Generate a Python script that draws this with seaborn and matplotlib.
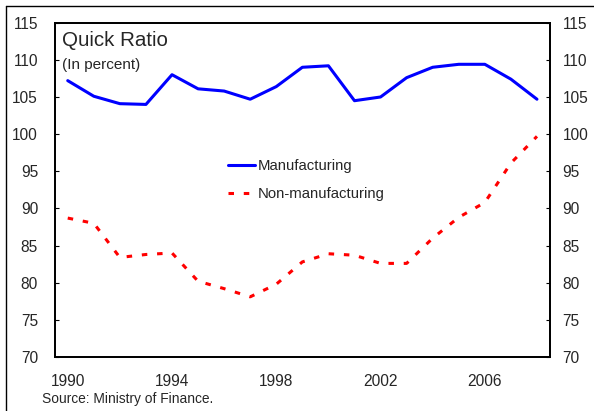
import numpy as np
import pandas as pd
import matplotlib
matplotlib.use("Agg")
import matplotlib.pyplot as plt
from matplotlib.lines import Line2D
import seaborn as sns

years = list(range(1990, 2009))
manufacturing = [107.2, 105.1, 104.1, 104.0, 108.0, 106.1, 105.8, 104.7, 106.4, 109.0,
                 109.2, 104.5, 105.0, 107.6, 109.0, 109.4, 109.4, 107.4, 104.7]
non_manufacturing = [88.7, 88.0, 83.4, 83.8, 84.0, 80.2, 79.2, 78.1, 79.8, 82.8,
                     83.9, 83.7, 82.6, 82.6, 86.0, 88.8, 90.8, 96.1, 99.7]
series_names = ["Manufacturing", "Non-manufacturing"]
year_labels = ["1990", "1994", "1998", "2002", "2006"]
y_ticks = [70, 75, 80, 85, 90, 95, 100, 105, 110, 115]

sns.set_theme(style="white")
plt.rcParams["font.family"] = ["Liberation Sans", "DejaVu Sans"]

pos = list(range(len(years)))
df = pd.DataFrame({
    "pos": pos + pos,
    "value": manufacturing + non_manufacturing,
    "series": [series_names[0]] * len(years) + [series_names[1]] * len(years),
})

fig = plt.figure(figsize=(5.94, 4.11), dpi=100)
ax = fig.add_axes([54.7 / 594, 1 - 357 / 411, (550 - 54.7) / 594, (357 - 22.7) / 411])

sns.lineplot(data=df, x="pos", y="value", hue="series", style="series",
             palette={series_names[0]: "#0000FF", series_names[1]: "#FF0000"},
             dashes={series_names[0]: "", series_names[1]: (1.8, 3.2)},
             linewidth=2.2, ax=ax, legend=False)

ax.set_xlim(-0.5, len(years) - 0.5)
ax.set_ylim(70, 115)
ax.set_xlabel("")
ax.set_ylabel("")

tick_fs = 11.2

# x axis: labels at category centers, tick marks between categories
ax.set_xticks([years.index(int(y)) for y in year_labels])
ax.set_xticklabels(year_labels, fontsize=tick_fs)
ax.set_xticks(np.arange(0.5, len(years) - 1, 1.0), minor=True)
ax.tick_params(axis="x", which="major", length=0, pad=12.5)
ax.tick_params(axis="x", which="minor", direction="in", length=3, width=0.8, color="black")

ax.set_yticks(y_ticks)
ax.set_yticklabels([str(v) for v in y_ticks], fontsize=tick_fs)
ax.tick_params(axis="y", which="major", direction="in", length=3, width=0.8,
               color="black", pad=12, left=True)

ax2 = ax.twinx()
ax2.set_ylim(70, 115)
ax2.set_yticks(y_ticks)
ax2.set_yticklabels([str(v) for v in y_ticks], fontsize=tick_fs)
ax2.tick_params(axis="y", which="major", direction="in", length=3, width=0.8,
                color="black", pad=9, right=True)

for a in (ax, ax2):
    for s in a.spines.values():
        s.set_visible(True)
        s.set_color("black")
        s.set_linewidth(1.3)

handles = [Line2D([], [], color="#0000FF", lw=2.2),
           Line2D([], [], color="#FF0000", lw=2.2, dashes=(1.8, 3.2))]
ax.legend(handles, series_names, loc="upper left",
          bbox_to_anchor=((228 - 54.7) / 495.3, (357 - 159) / 334.3),
          frameon=False, fontsize=10.7, handlelength=1.85, handletextpad=0.15,
          labelspacing=0.95, borderpad=0, borderaxespad=0)

fig.text(62 / 594, 1 - 41 / 411, "Quick Ratio", fontsize=14.8, ha="left", va="center")
fig.text(62 / 594, 1 - 65 / 411, "(In percent)", fontsize=11, ha="left", va="center")
fig.text(42 / 594, 1 - 399 / 411, "Source: Ministry of Finance.", fontsize=9.9,
         ha="left", va="center")

# outer frame (top and left visible)
fig.add_artist(Line2D([6 / 594, 1.0], [1 - 6 / 411, 1 - 6 / 411],
                      transform=fig.transFigure, color="black", lw=1.0))
fig.add_artist(Line2D([6 / 594, 6 / 594], [0.0, 1 - 6 / 411],
                      transform=fig.transFigure, color="black", lw=1.0))

fig.savefig("out.png", dpi=100)
